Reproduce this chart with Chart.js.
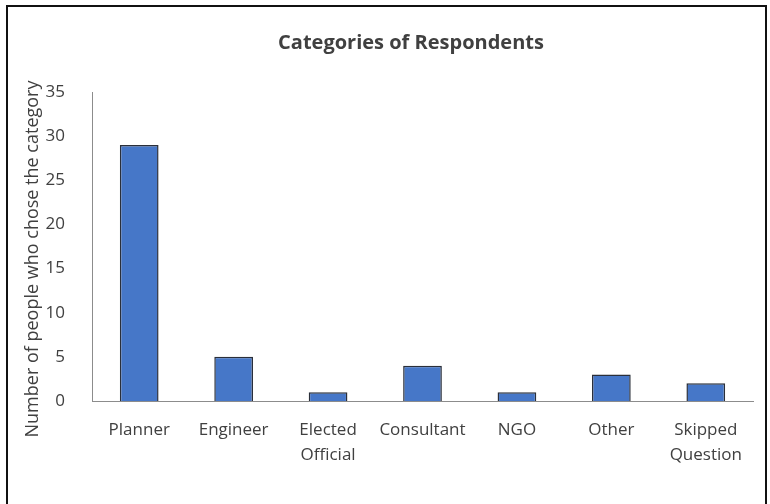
<!DOCTYPE html>
<html>
<head>
<meta charset="utf-8">
<title>Categories of Respondents</title>
<script src="https://cdn.jsdelivr.net/npm/chart.js@4/dist/chart.umd.min.js"></script>
<style>
  body { margin: 0; background: #fff; overflow: hidden; }
  #wrap { position: relative; width: 770px; height: 504px; overflow: hidden; }
  #frame {
    position: absolute; left: 6px; top: 5px; width: 757px; height: 520px;
    border: 2px solid #111; pointer-events: none;
  }
</style>
</head>
<body>
<div id="wrap">
  <canvas id="chartRespondents" width="770" height="504"></canvas>
  <div id="frame"></div>
</div>
<script>
const categories = ["Planner", "Engineer", ["Elected", "Official"], "Consultant", "NGO", "Other", ["Skipped", "Question"]];
const respondentCounts = [29, 5, 1, 4, 1, 3, 2];
const yTicks = [0, 5, 10, 15, 20, 25, 30, 35];
const chartTitle = "Categories of Respondents";
const yAxisTitle = "Number of people who chose the category";

const textColor = "#404040";
const fontFamily = "'Open Sans', 'Liberation Sans', sans-serif";

const chartElement = document.querySelector("#chartRespondents");

// title and y-axis caption sit a little off-centre, so they are drawn by hand
const captionsPlugin = {
  id: "captions",
  afterDraw: (chart) => {
    const ctx = chart.ctx;
    ctx.save();
    ctx.fillStyle = textColor;
    ctx.textAlign = "center";
    ctx.textBaseline = "middle";

    ctx.font = `bold 20px ${fontFamily}`;
    ctx.fillText(chartTitle, 411, 43);

    ctx.font = `18px ${fontFamily}`;
    ctx.translate(33, 259);
    ctx.rotate(-Math.PI / 2);
    ctx.fillText(yAxisTitle, 0, 0);
    ctx.restore();
  },
};

new Chart(chartElement, {
  type: "bar",
  data: {
    labels: categories,
    datasets: [
      {
        label: "Respondents",
        data: respondentCounts,
        backgroundColor: "#4677C8",
        borderColor: "#2a2f3a",
        borderWidth: 1.5,
        barPercentage: 0.41,
        categoryPercentage: 1,
      },
    ],
  },
  options: {
    responsive: false,
    animation: false,
    layout: {
      padding: { left: 20, right: 17, top: 92, bottom: 0 },
    },
    plugins: {
      legend: { display: false },
      tooltip: { enabled: false },
      title: { display: false },
    },
    scales: {
      x: {
        grid: { display: false },
        border: { display: true, color: "#8c8c8c", width: 1 },
        ticks: {
          color: textColor,
          font: { family: fontFamily, size: 17, lineHeight: 1.47 },
          padding: 9,
          maxRotation: 0,
          autoSkip: false,
        },
        afterFit: (scale) => {
          scale.height = 103;
        },
      },
      y: {
        min: 0,
        max: 35,
        grid: { display: false },
        border: { display: true, color: "#8c8c8c", width: 1 },
        afterBuildTicks: (scale) => {
          scale.ticks = yTicks.map((v) => ({ value: v }));
        },
        ticks: {
          color: textColor,
          font: { family: fontFamily, size: 17 },
          padding: 19,
        },
        afterFit: (scale) => {
          scale.width = 72;
        },
      },
    },
  },
  plugins: [captionsPlugin],
});
</script>
</body>
</html>
